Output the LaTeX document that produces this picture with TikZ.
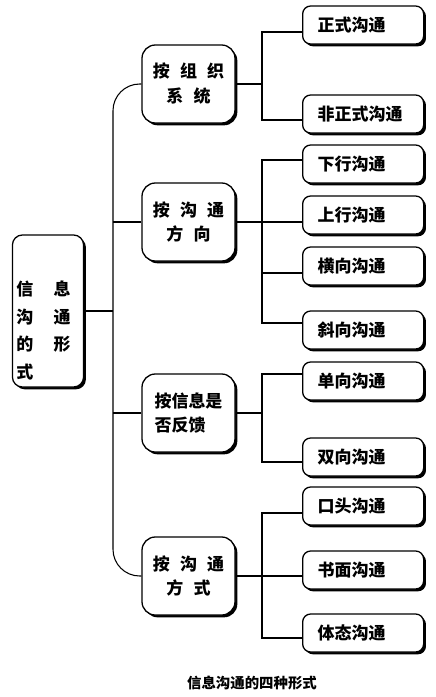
\documentclass[tikz,border=0pt]{standalone}
\usepackage{fontspec}
\newfontfamily\cjk{Noto Sans CJK SC}
\usetikzlibrary{shadows}
\tikzset{
	boxed/.style={draw,line width=1.1pt,fill=white,
		drop shadow={shadow xshift=0.07cm,shadow yshift=-0.07cm,fill=black,opacity=1}},
	leaf/.style={boxed,rounded corners=0.24cm,anchor=west,minimum height=1.14cm,
		text width=2.73cm,inner xsep=0.45cm,align=left,font=\cjk\bfseries\fontsize{14.5}{17}\selectfont},
	kind/.style={boxed,rounded corners=0.4cm,minimum width=2.79cm,minimum height=2.34cm,
		font=\cjk\bfseries\fontsize{14.5}{21.3}\selectfont},
	link/.style={line width=0.9pt}
}
\def\g{\hspace{0.6em}}%gap between characters
\begin{document}
\begin{tikzpicture}[x=0.03cm,y=-0.03cm]
	\useasboundingbox (0,0) rectangle (435,697);
	%root
	\node[boxed,rounded corners=0.3cm,minimum width=2.1cm,minimum height=4.56cm,align=left,
		font=\cjk\bfseries\fontsize{14.5}{23.4}\selectfont] (forms) at (48,311)
		{\rule{0pt}{46pt}信\hspace{1.2em}息\\沟\hspace{1.2em}通\\的\hspace{1.2em}形\\式\hspace{1.2em}\phantom{形}\kern0.27cm};
	%second level
	\node[kind,align=center] (org) at (188.5,84) {按\g 组\g 织\\系\g 统};
	\node[kind,align=center] (dir) at (188.5,222) {按\g 沟\g 通\\方\g 向};
	\node[kind,align=left] (fb) at (188.5,413) {按信息是\\否反馈};
	\node[kind,align=center] (way) at (188.5,576) {按\g 沟\g 通\\方\g 式};
	%third level
	\node[leaf] (formal) at (302,25) {正式沟通};
	\node[leaf] (informal) at (302,114) {非正式沟通};
	\node[leaf] (down) at (302,164) {下行沟通};
	\node[leaf] (up) at (302,215) {上行沟通};
	\node[leaf] (side) at (302,266) {横向沟通};
	\node[leaf] (diag) at (302,330) {斜向沟通};
	\node[leaf] (oneway) at (302,381) {单向沟通};
	\node[leaf] (twoway) at (302,457) {双向沟通};
	\node[leaf] (oral) at (302,506) {口头沟通};
	\node[leaf] (written) at (302,570) {书面沟通};
	\node[leaf] (body) at (302,633) {体态沟通};
	%junctions
	\coordinate (trunk) at (113,311);
	\path (262,84) coordinate (jorg) (262,222) coordinate (jdir)
		(262,413) coordinate (jfb) (262,576) coordinate (jway);
	%connectors
	\draw[link,rounded corners=0.8cm] (org.west) -| (trunk) |- (way.west);
	\draw[link] (forms) -- (trunk) (dir) -- (trunk |- dir) (fb) -- (trunk |- fb);
	\foreach \k in {org,dir,fb,way} \draw[link] (\k) -- (j\k);
	\foreach \j/\n/\d in {jorg/formal/-7,jorg/informal/-6,jdir/down/4,jdir/up/-7,jdir/side/-7,jdir/diag/7,
		jfb/oneway/7,jfb/twoway/-5,jway/oral/-7,jway/written/-6,jway/body/-5}
		\draw[link] (\j) |- ([yshift=\d*0.3mm]\n.west);
	%caption
	\node[font=\cjk\bfseries\fontsize{12.3}{14}\selectfont] (cap) at (252,683) {信息沟通的四种形式};
\end{tikzpicture}
\end{document}
